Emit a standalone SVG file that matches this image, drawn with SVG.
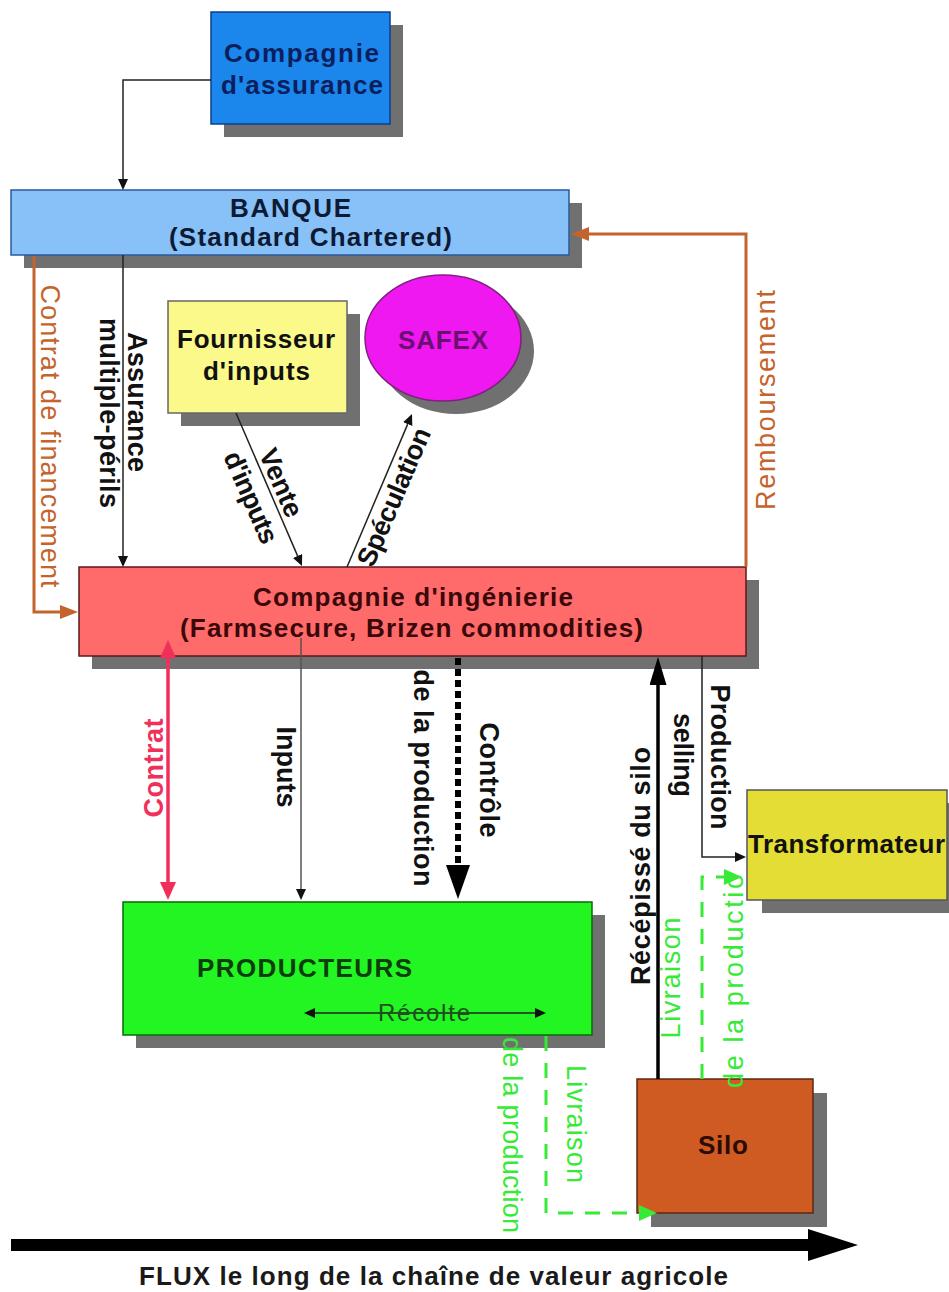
<svg xmlns="http://www.w3.org/2000/svg" width="949" height="1292" viewBox="0 0 949 1292">
<style>
text{font-family:"Liberation Sans",Arial,Helvetica,sans-serif}
.nt{font-size:26px;font-weight:bold;text-anchor:middle}
.lb{font-size:27px;font-weight:bold;text-anchor:middle;fill:#111}
.lo{font-size:27px;text-anchor:middle;fill:#c4642c}
.lg{font-size:27px;text-anchor:middle;fill:#36ea36}
.sh{fill:#707070}
.bx{stroke-width:1.5}
.thin{fill:none;stroke:#222;stroke-width:1.5}
.org{fill:none;stroke:#c4642c;stroke-width:3}
.grn{fill:none;stroke:#36ea36;stroke-width:3;stroke-dasharray:15 12}
</style>
<defs>
<marker id="aT" viewBox="0 0 11 10" refX="0" refY="5" markerWidth="11" markerHeight="10" markerUnits="userSpaceOnUse" orient="auto-start-reverse"><path d="M0,0L11,5L0,10z" fill="#111"/></marker>
<marker id="aO" viewBox="0 0 18 14" refX="0" refY="7" markerWidth="18" markerHeight="14" markerUnits="userSpaceOnUse" orient="auto-start-reverse"><path d="M0,0L18,7L0,14z" fill="#c4642c"/></marker>
<marker id="aR" viewBox="0 0 18 16" refX="0" refY="8" markerWidth="18" markerHeight="16" markerUnits="userSpaceOnUse" orient="auto-start-reverse"><path d="M0,0L18,8L0,16z" fill="#f0305a"/></marker>
<marker id="aB" viewBox="0 0 34 24" refX="0" refY="12" markerWidth="34" markerHeight="24" markerUnits="userSpaceOnUse" orient="auto-start-reverse"><path d="M0,0L34,12L0,24z" fill="#000"/></marker>
<marker id="aK" viewBox="0 0 28 17" refX="0" refY="8.5" markerWidth="28" markerHeight="17" markerUnits="userSpaceOnUse" orient="auto-start-reverse"><path d="M0,0L28,8.5L0,17z" fill="#000"/></marker>
<marker id="aG" viewBox="0 0 18 16" refX="0" refY="8" markerWidth="18" markerHeight="16" markerUnits="userSpaceOnUse" orient="auto-start-reverse"><path d="M0,0L18,8L0,16z" fill="#36ea36"/></marker>
</defs>
<rect x="0" y="0" width="949" height="1292" fill="#ffffff"/>

<g id="assurance">
<rect class="sh" x="224" y="25" width="179" height="112"/>
<rect class="bx" x="211" y="12" width="179" height="112" fill="#1b87ec" stroke="#0d3f8c"/>
<text class="nt" fill="#0b1f5e" x="301.5" y="62" textLength="155" lengthAdjust="spacing">Compagnie</text>
<text class="nt" fill="#0b1f5e" x="302" y="94" textLength="162" lengthAdjust="spacing">d'assurance</text>
</g>

<g id="banque">
<rect class="sh" x="24" y="203" width="558" height="65"/>
<rect class="bx" x="11" y="190" width="558" height="65" fill="#88c0f8" stroke="#2a5a9a"/>
<text class="nt" fill="#0c1a33" x="290.5" y="217" textLength="121" lengthAdjust="spacing">BANQUE</text>
<text class="nt" fill="#0c1a33" x="310.5" y="246" textLength="283" lengthAdjust="spacing">(Standard Chartered)</text>
</g>

<g id="fournisseur">
<rect class="sh" x="181" y="314" width="179" height="112"/>
<rect class="bx" x="168" y="301" width="179" height="112" fill="#fbf98a" stroke="#666"/>
<text class="nt" fill="#111" x="256" y="348" textLength="158" lengthAdjust="spacing">Fournisseur</text>
<text class="nt" fill="#111" x="256.5" y="380" textLength="107" lengthAdjust="spacing">d'inputs</text>
</g>

<g id="safex">
<ellipse class="sh" cx="456" cy="351" rx="78" ry="63"/>
<ellipse class="bx" cx="443" cy="338" rx="78" ry="63" fill="#f018f0" stroke="#802080"/>
<text class="nt" fill="#6b1070" x="443" y="349" textLength="90" lengthAdjust="spacing">SAFEX</text>
</g>

<g id="ingenierie">
<rect class="sh" x="92" y="580" width="667" height="89"/>
<rect class="bx" x="79" y="567" width="667" height="89" fill="#ff6a6a" stroke="#5a1a1a"/>
<text class="nt" fill="#3a0808" x="413" y="606" textLength="320" lengthAdjust="spacing">Compagnie d'ingénierie</text>
<text class="nt" fill="#3a0808" x="411.5" y="637" textLength="463" lengthAdjust="spacing">(Farmsecure, Brizen commodities)</text>
</g>

<g id="producteurs">
<rect class="sh" x="136" y="915" width="469" height="133"/>
<rect class="bx" x="123" y="902" width="469" height="133" fill="#22f522" stroke="#0a6a0a"/>
<text class="nt" fill="#0d3d0d" x="304.5" y="977" textLength="215" lengthAdjust="spacing">PRODUCTEURS</text>
</g>

<g id="transformateur">
<rect class="sh" x="762" y="803" width="200" height="110"/>
<rect class="bx" x="747" y="790" width="200" height="110" fill="#e3dd35" stroke="#555"/>
<text class="nt" fill="#111" x="748" y="853" style="text-anchor:start" textLength="197" lengthAdjust="spacing">Transformateur</text>
</g>

<g id="silo">
<rect class="sh" x="651" y="1093" width="176" height="134"/>
<rect class="bx" x="637" y="1079" width="176" height="134" fill="#cf5a22" stroke="#5a2a10"/>
<text class="nt" fill="#2a0c04" x="723" y="1154" textLength="50" lengthAdjust="spacing">Silo</text>
</g>

<g id="connectors">
<path class="thin" d="M211,80 H123 V179" marker-end="url(#aT)"/>
<path class="thin" d="M123,255 V556" marker-end="url(#aT)"/>
<path class="thin" d="M236,413 L297.6,555.9" marker-end="url(#aT)"/>
<path class="thin" d="M347,567 L407.7,424.1" marker-end="url(#aT)"/>
<path class="org" d="M746,567 V234 H589" marker-end="url(#aO)"/>
<path class="org" d="M34,256 V612 H60" marker-end="url(#aO)"/>
<path d="M168,658 V882" fill="none" stroke="#f0305a" stroke-width="3.5" marker-start="url(#aR)" marker-end="url(#aR)"/>
<path d="M301,638 V889" fill="none" stroke="#555" stroke-width="1.5" marker-end="url(#aT)"/>
<path d="M458,658 V865" fill="none" stroke="#000" stroke-width="6" stroke-dasharray="7 4" marker-end="url(#aB)"/>
<path d="M658,1079 V685" fill="none" stroke="#000" stroke-width="3.5" marker-end="url(#aK)"/>
<path class="thin" d="M702,656 V857 H735" marker-end="url(#aT)"/>
<path class="grn" d="M702,1079 V877 H724" marker-end="url(#aG)"/>
<path class="grn" d="M546,1036 V1213 H639" marker-end="url(#aG)"/>
<path class="thin" d="M315,1013 H535" marker-start="url(#aT)" marker-end="url(#aT)"/>
<path d="M11,1245 H812" fill="none" stroke="#000" stroke-width="12"/>
<polygon points="808,1229 858,1245 808,1261" fill="#000"/>

<text class="lb" transform="translate(128,402) rotate(90)" textLength="140" lengthAdjust="spacing">Assurance</text>
<text class="lb" transform="translate(100,413) rotate(90)" textLength="190" lengthAdjust="spacing">multiple-périls</text>
<text class="lo" transform="translate(41,436) rotate(90)" textLength="303" lengthAdjust="spacing">Contrat de financement</text>
<text class="lo" transform="translate(775,400) rotate(-90)" textLength="220" lengthAdjust="spacing">Remboursement</text>
<text class="lb" transform="translate(281,483) rotate(66.5)" y="9" textLength="72" lengthAdjust="spacing">Vente</text>
<text class="lb" transform="translate(250,498) rotate(66.5)" y="8" textLength="98" lengthAdjust="spacing">d'inputs</text>
<text class="lb" transform="translate(394,497) rotate(-66.8)" y="9" textLength="148" lengthAdjust="spacing">Spéculation</text>
<text class="lb" style="fill:#f0305a" transform="translate(163,768) rotate(-90)" textLength="99" lengthAdjust="spacing">Contrat</text>
<text class="lb" transform="translate(277,767) rotate(90)" textLength="81" lengthAdjust="spacing">Inputs</text>
<text class="lb" transform="translate(480,780) rotate(90)" textLength="115" lengthAdjust="spacing">Contrôle</text>
<text class="lb" transform="translate(414,778) rotate(90)" textLength="217" lengthAdjust="spacing">de la production</text>
<text class="lb" transform="translate(650,866) rotate(-90)" textLength="238" lengthAdjust="spacing">Récépissé du silo</text>
<text class="lb" transform="translate(711,757) rotate(90)" textLength="145" lengthAdjust="spacing">Production</text>
<text class="lb" transform="translate(674,755) rotate(90)" textLength="84" lengthAdjust="spacing">selling</text>
<text class="lg" transform="translate(680,978) rotate(-90)" textLength="121" lengthAdjust="spacing">Livraison</text>
<text class="lg" style="text-anchor:start" transform="translate(743,1088) rotate(-90)" textLength="214" lengthAdjust="spacing">de la productio</text>
<text class="lg" transform="translate(567,1124) rotate(90)" textLength="118" lengthAdjust="spacing">Livraison</text>
<text class="lg" transform="translate(503,1135) rotate(90)" textLength="196" lengthAdjust="spacing">de la production</text>
<text x="424" y="1021" style="font-size:24px;text-anchor:middle;fill:#1e4d1e" textLength="92" lengthAdjust="spacing">Récolte</text>
</g>

<text x="433.5" y="1285" style="font-size:26px;font-weight:bold;text-anchor:middle;fill:#1a1a1a" textLength="589" lengthAdjust="spacing">FLUX le long de la chaîne de valeur agricole</text>
</svg>
